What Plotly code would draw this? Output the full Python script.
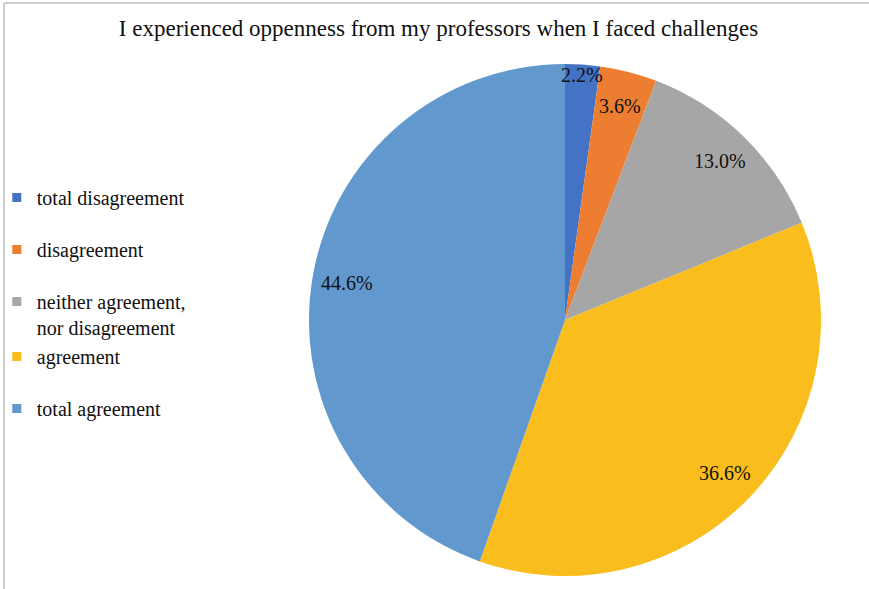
import plotly.graph_objects as go
import math

categories = ["total disagreement", "disagreement", "neither agreement,<br>nor disagreement",
              "agreement", "total agreement"]
values = [2.2, 3.6, 13.0, 36.6, 44.6]
colors = ["#4472C4", "#ED7D31", "#A6A6A6", "#F9BD1E", "#6199CE"]

W, H = 869, 589
FONT = "Liberation Serif, Times New Roman, serif"
TXT = "#111111"

# pie geometry in pixels
cx, cy, R = 565, 320, 256
dom_x = [(cx - R) / W, (cx + R) / W]
dom_y = [1 - (cy + R) / H, 1 - (cy - R) / H]

fig = go.Figure()
fig.add_trace(go.Pie(
    labels=categories, values=values, sort=False, direction="clockwise", rotation=0,
    marker=dict(colors=colors, line=dict(width=0)),
    textinfo="none", hoverinfo="label+percent", showlegend=False,
    domain=dict(x=dom_x, y=dom_y),
))

# legend via dummy traces
groups = ["g1", "g2", "g3", "g3", "g4"]
for cat, col, g in zip(categories, colors, groups):
    fig.add_trace(go.Scatter(x=[None], y=[None], mode="markers", name=cat,
                             legendgroup=g,
                             marker=dict(symbol="square", size=9, color=col)))

# percentage labels
total = sum(values)
cum = 0
annotations = []
for v in values:
    mid = (cum + v / 2) / total * 2 * math.pi
    cum += v
    rf = 0.96 if v / total < 0.03 else 0.865
    px = cx + rf * R * math.sin(mid)
    py = cy - rf * R * math.cos(mid)
    annotations.append(dict(x=px / W, y=1 - py / H, xref="paper", yref="paper",
                            xanchor="center", yanchor="middle",
                            text=f"{v / total * 100:.1f}%", showarrow=False,
                            font=dict(family=FONT, size=20, color=TXT)))

fig.update_layout(
    width=W, height=H,
    margin=dict(l=0, r=0, t=0, b=0, autoexpand=False),
    paper_bgcolor="white", plot_bgcolor="white",
    xaxis=dict(visible=False), yaxis=dict(visible=False),
    title=dict(text="I experienced oppenness from my professors when I faced challenges",
               x=0.5046, xanchor="center", y=1 - 28 / H, yanchor="middle",
               font=dict(family=FONT, size=23, color=TXT)),
    legend=dict(x=-0.0037, xanchor="left", y=1 - 178 / H, yanchor="top",
                font=dict(family=FONT, size=20, color=TXT),
                tracegroupgap=23, valign="top", bgcolor="rgba(0,0,0,0)"),
    annotations=annotations,
    shapes=[
        dict(type="line", xref="paper", yref="paper", x0=4 / W, x1=1, y0=1 - 3 / H, y1=1 - 3 / H,
             line=dict(color="#bfbfbf", width=1.5)),
        dict(type="line", xref="paper", yref="paper", x0=4 / W, x1=4 / W, y0=0, y1=1 - 3 / H,
             line=dict(color="#bfbfbf", width=1.5)),
    ],
)

fig.write_html("out.html", config={"displayModeBar": False},
               post_script="document.body.style.margin='0px';")
